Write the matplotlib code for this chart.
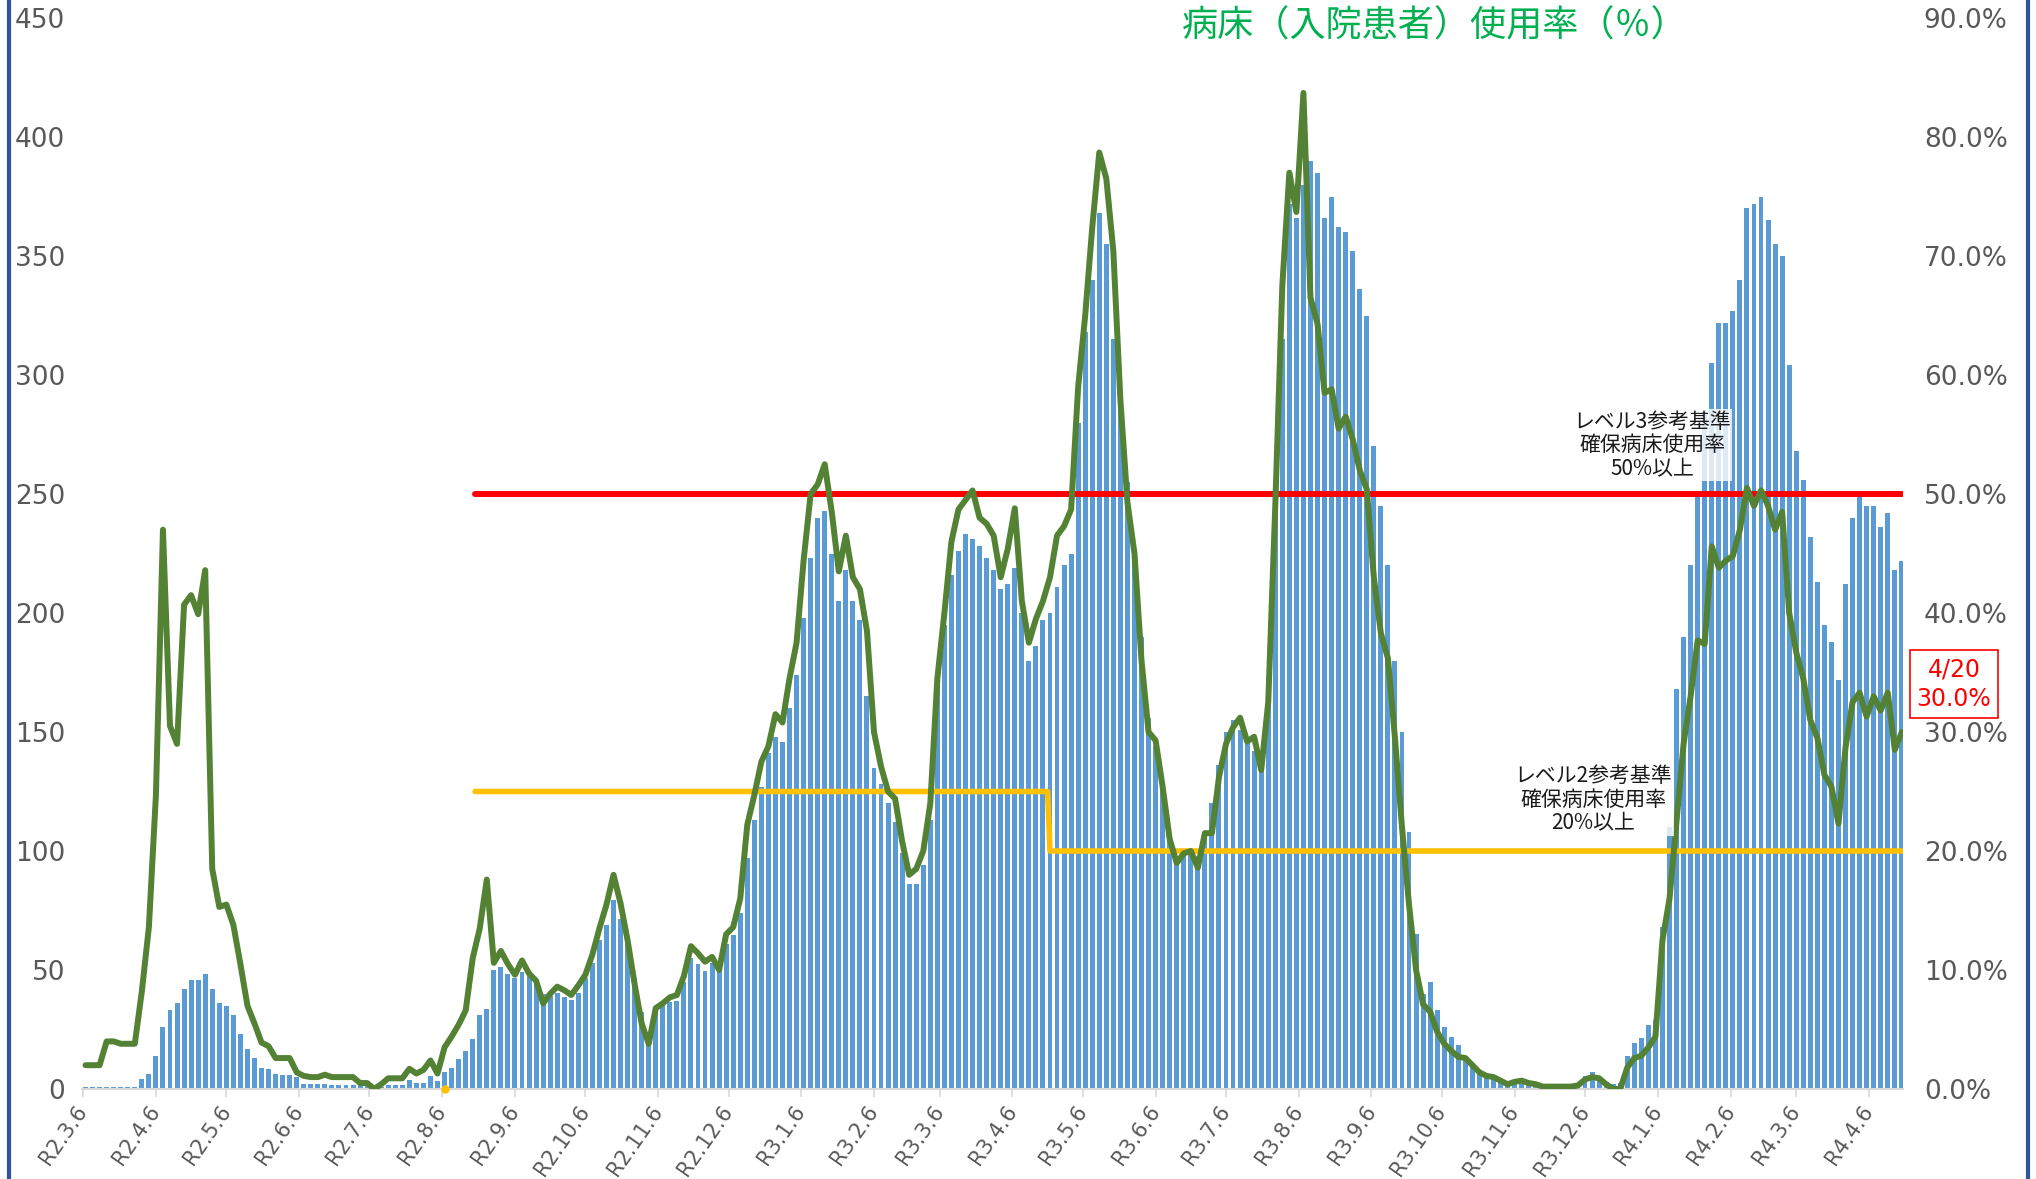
import matplotlib
matplotlib.use("Agg")
import matplotlib.pyplot as plt
import matplotlib.dates as mdates
from matplotlib.lines import Line2D
import pandas as pd

# values every 3rd day, 2020-03-07 .. 2022-04-20
start_date = "2020-03-07"
step_days = 3

# inpatients (left axis, persons)
inpatients = [
    1, 1, 1, 1, 1, 1, 1, 1, 4, 6.5,
    14, 26, 33, 36, 42, 46, 46, 48.5, 42, 36,
    35, 31, 23, 17, 13, 9, 8.5, 6.5, 6, 6,
    5, 2, 2, 2, 2, 1.5, 1.5, 1.5, 1.5, 1.5,
    1.5, 1, 1, 1.5, 1.5, 1.5, 3.7, 2.4, 2.4, 5.5,
    3.2, 7, 9, 12.5, 16, 21, 31, 33.5, 50, 51.4,
    48.2, 46.5, 49, 47.5, 45.5, 40, 39, 40.5, 38.5, 37.5,
    40.5, 46.5, 52.8, 62.8, 68.8, 79.5, 71.5, 61, 46.5, 32.5,
    20, 32, 35.5, 36.7, 37, 45, 55, 52.5, 49.5, 52.8,
    50, 61, 64.5, 74, 97, 113, 127, 141, 148, 146,
    160, 174, 198, 223, 240, 243, 225, 205, 218, 205,
    197, 165, 135, 128, 120, 112, 99, 86, 86, 94,
    113, 170, 195, 216, 226, 233, 231, 228, 223, 218,
    210, 212, 219, 200, 180, 186, 197, 200, 211, 220,
    225, 280, 318, 340, 368, 355, 315, 288, 255, 226,
    190, 156, 144, 126, 105, 98, 100, 101, 98, 108,
    120, 136, 150, 155, 151, 146, 142, 136, 165, 250,
    315, 372, 366, 380, 390, 385, 366, 375, 362, 360,
    352, 336, 325, 270, 245, 220, 180, 150, 108, 65,
    40, 45, 33, 26, 22, 18.5, 14, 10.5, 7, 5.4,
    4.7, 3.8, 3, 2.5, 2.2, 2, 1.6, 1.4, 1.4, 1.4,
    1.4, 1.6, 2.2, 5.5, 7, 5, 3, 2, 2.5, 14,
    19.2, 21.5, 27, 29, 68, 110, 168, 190, 220, 250,
    285, 305, 322, 322, 327, 340, 370, 372, 375, 365,
    355, 350, 304, 268, 256, 232, 213, 195, 188, 172,
    212, 240, 249, 245, 245, 236, 242, 218, 222,
]

# bed usage rate (right axis, %)
usage_rate = [
    2.0, 2.0, 2.0, 4.0, 4.0, 3.8, 3.8, 3.8, 8.2, 13.6,
    24.7, 47.0, 30.5, 29.0, 40.7, 41.5, 39.9, 43.6, 18.5, 15.3,
    15.5, 13.8, 10.5, 7.0, 5.5, 3.9, 3.6, 2.6, 2.6, 2.6,
    1.4, 1.1, 1.0, 1.0, 1.2, 1.0, 1.0, 1.0, 1.0, 0.5,
    0.5, 0.0, 0.4, 0.9, 0.9, 0.9, 1.7, 1.3, 1.6, 2.4,
    1.3, 3.5, 4.4, 5.4, 6.6, 11.0, 13.5, 17.6, 10.6, 11.6,
    10.5, 9.6, 10.8, 9.7, 9.1, 7.2, 8.0, 8.6, 8.3, 7.9,
    8.7, 9.6, 11.3, 13.5, 15.5, 18.0, 15.6, 12.5, 8.8, 5.5,
    3.8, 6.8, 7.2, 7.7, 7.9, 9.5, 12.0, 11.4, 10.7, 11.1,
    10.0, 13.0, 13.6, 16.0, 22.2, 24.7, 27.5, 28.8, 31.5, 30.8,
    34.5, 37.5, 44.4, 50.0, 50.8, 52.5, 48.5, 43.5, 46.5, 43.0,
    42.0, 38.5, 30.0, 27.1, 25.0, 24.4, 20.8, 18.0, 18.5, 20.0,
    24.0, 34.5, 40.0, 46.0, 48.7, 49.5, 50.3, 48.0, 47.5, 46.5,
    43.0, 45.4, 48.8, 41.0, 37.5, 39.5, 41.0, 43.0, 46.5, 47.3,
    48.7, 59.0, 65.0, 72.4, 78.7, 76.5, 70.4, 57.9, 49.3, 45.0,
    36.0, 30.0, 29.3, 25.4, 21.0, 19.0, 19.8, 20.0, 18.6, 21.5,
    21.5, 26.2, 29.0, 30.4, 31.2, 29.2, 29.6, 26.8, 32.5, 49.0,
    67.5, 77.0, 73.7, 83.7, 66.5, 64.3, 58.5, 58.8, 55.5, 56.5,
    54.6, 52.0, 50.4, 43.0, 38.3, 36.2, 29.5, 22.0, 15.5, 10.0,
    7.1, 6.5, 4.8, 3.8, 3.2, 2.7, 2.6, 2.0, 1.4, 1.1,
    1.0, 0.7, 0.4, 0.6, 0.7, 0.5, 0.4, 0.2, 0.2, 0.2,
    0.2, 0.2, 0.3, 0.8, 1.0, 0.9, 0.4, 0.0, 0.0, 1.8,
    2.6, 2.8, 3.5, 4.4, 12.5, 16.0, 22.5, 29.0, 33.0, 37.7,
    37.4, 45.6, 43.8, 44.4, 44.8, 47.0, 50.5, 49.0, 50.3, 49.0,
    47.0, 48.5, 40.0, 36.7, 34.5, 31.0, 29.5, 26.4, 25.4, 22.3,
    28.7, 32.5, 33.3, 31.3, 33.0, 31.8, 33.3, 28.5, 30.0,
]
assert len(inpatients) == len(usage_rate)

tick_labels = [
    "R2.3.6", "R2.4.6", "R2.5.6", "R2.6.6", "R2.7.6", "R2.8.6", "R2.9.6",
    "R2.10.6", "R2.11.6", "R2.12.6", "R3.1.6", "R3.2.6", "R3.3.6", "R3.4.6",
    "R3.5.6", "R3.6.6", "R3.7.6", "R3.8.6", "R3.9.6", "R3.10.6", "R3.11.6",
    "R3.12.6", "R4.1.6", "R4.2.6", "R4.3.6", "R4.4.6",
]

# reference levels (%)
level3_dates = ["2020-08-20", "2022-04-20"]
level3_rate = [50, 50]
level2_dates = ["2020-08-20", "2021-04-21", "2021-04-22", "2022-04-20"]
level2_rate = [25, 25, 20, 20]
level2_dot_date = ["2020-08-07"]
level2_dot_rate = [0]

level3_text = "レベル3参考基準\n確保病床使用率\n50%以上"
level2_text = "レベル2参考基準\n確保病床使用率\n20%以上"
latest_text = "4/20\n30.0%"
title_text = "病床（入院患者）使用率（％）"

jp = ["Noto Sans CJK JP", "DejaVu Sans"]
grey = "#595959"

dates = pd.date_range(start_date, periods=len(inpatients), freq=f"{step_days}D")
x = mdates.date2num(dates.to_pydatetime())
tick_x = mdates.date2num((pd.date_range("2020-03-01", periods=len(tick_labels), freq="MS")
                          + pd.Timedelta(days=5)).to_pydatetime())

def dnum(d_list):
    return mdates.date2num(pd.to_datetime(d_list).to_pydatetime())

W, H = 2036, 1179
fig = plt.figure(figsize=(W / 100, H / 100), dpi=100)
ax = fig.add_axes([82 / W, 90 / H, 1821 / W, 1071 / H])

ax.bar(x, inpatients, width=2.1, color="#5B9BD5", linewidth=0, zorder=1)
ax.set_xlim(dnum(["2020-03-05 12:00"])[0], dnum(["2022-04-20 12:00"])[0])
ax.set_ylim(0, 450)
ax.set_yticks(range(0, 451, 50))

ax2 = ax.twinx()
ax2.set_ylim(0, 90)
ax2.set_yticks(range(0, 91, 10))
ax2.set_yticklabels([f"{v:.1f}%" for v in range(0, 91, 10)])

for a in (ax, ax2):
    for s in a.spines.values():
        s.set_visible(False)
ax.spines["bottom"].set_visible(True)
ax.spines["bottom"].set_color("#D9D9D9")
ax.spines["bottom"].set_linewidth(1.5)

ax.tick_params(axis="y", length=0, pad=12, labelsize=19, labelcolor=grey)
ax2.tick_params(axis="y", length=0, pad=15, labelsize=19, labelcolor=grey)
ax.set_xticks(tick_x)
ax.set_xticklabels(tick_labels, rotation=55, ha="right", va="center",
                   rotation_mode="anchor", fontsize=15, color=grey)
ax.tick_params(axis="x", length=6, width=1.2, color="#D9D9D9", pad=7)

# reference lines then usage rate
ax2.plot(dnum(level3_dates), level3_rate, color="#FF0000", lw=4.3,
         solid_capstyle="round", zorder=3)
ax2.plot(dnum(level2_dates), level2_rate, color="#FFC000", lw=4.0,
         solid_capstyle="round", zorder=3)
ax2.plot(dnum(level2_dot_date), level2_dot_rate, "o", color="#FFC000", ms=5,
         clip_on=False, zorder=3)
ax2.plot(x, usage_rate, color="#548235", lw=4.3, solid_joinstyle="round",
         solid_capstyle="round", zorder=4)

box = dict(facecolor="white", alpha=0.8, edgecolor="none", pad=1)
ax2.text(dnum(["2022-01-03 14:00"])[0], 54.1, level3_text, ha="center", va="center",
         fontsize=15, family=jp, linespacing=1.1, color="#1a1a1a", bbox=box, zorder=6)
ax2.text(dnum(["2021-12-09 12:00"])[0], 24.3, level2_text, ha="center", va="center",
         fontsize=15, family=jp, linespacing=1.1, color="#1a1a1a", bbox=box, zorder=6)

fig.text(1954 / W, 1 - 684 / H, latest_text, ha="center", va="center", color="red",
         fontsize=17, linespacing=1.3,
         bbox=dict(facecolor="white", edgecolor="red", lw=1.2, boxstyle="square,pad=0.3"))
fig.text(1435 / W, 1 - 27 / H, title_text, ha="center", va="center", color="#00B050",
         fontsize=26, family=jp)

# slide frame edges
for xf in (9 / W, 2028 / W):
    fig.add_artist(Line2D([xf, xf], [0, 1], transform=fig.transFigure,
                          color="#2F5597", lw=3))

fig.savefig("out.png", dpi=100)
